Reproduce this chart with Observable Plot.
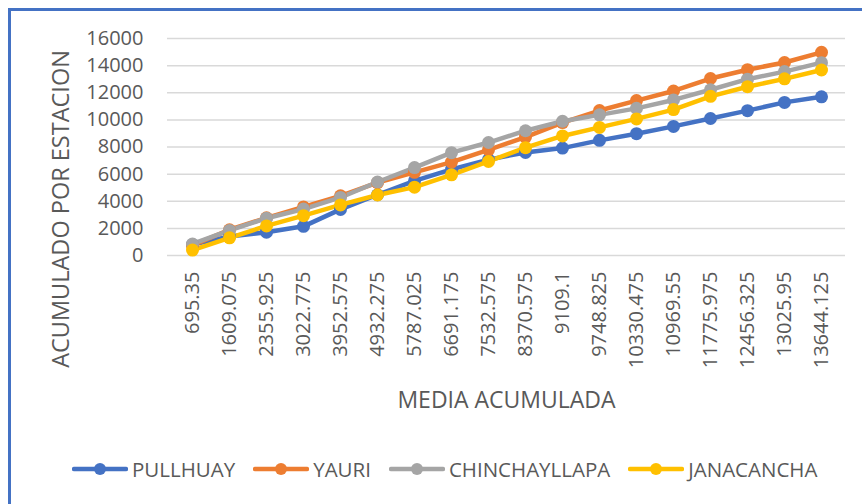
<!DOCTYPE html>
<html>
<head>
<meta charset="utf-8">
<script src="https://cdn.jsdelivr.net/npm/d3@7"></script>
<script src="https://cdn.jsdelivr.net/npm/@observablehq/plot@0.6"></script>
<style>
  html, body { margin: 0; padding: 0; background: #fff; width: 862px; height: 504px; overflow: hidden; }
  #frame { position: absolute; left: 8px; top: 8px; width: 900px; height: 600px;
           border-left: 3px solid #4472C4; border-top: 3px solid #4472C4; }
  #chart { position: absolute; left: 0; top: 0; }
  #legend { position: absolute; left: 72px; top: 440px; height: 58px; display: flex; align-items: center;
            font-family: "Open Sans", sans-serif; font-size: 20.5px; color: #595959; }
  .item { display: flex; align-items: center; margin-right: 18px; }
  .item svg { margin-right: 4px; }
</style>
</head>
<body>
<div id="frame"></div>
<div id="chart"></div>
<div id="legend"></div>
<script>
const labels = ["695.35","1609.075","2355.925","3022.775","3952.575","4932.275","5787.025","6691.175","7532.575","8370.575","9109.1","9748.825","10330.475","10969.55","11775.975","12456.325","13025.95","13644.125"];
const seriesNames = ["PULLHUAY","YAURI","CHINCHAYLLAPA","JANACANCHA"];
const seriesColors = ["#4472C4","#ED7D31","#A5A5A5","#FFC000"];
const pullhuay      = [800, 1400, 1720, 2150, 3400, 4480, 5500, 6350, 7070, 7600, 7920, 8490, 8980, 9520, 10100, 10680, 11290, 11700];
const yauri         = [750, 1900, 2780, 3580, 4400, 5370, 6130, 6890, 7790, 8730, 9800, 10690, 11420, 12130, 13050, 13700, 14230, 14980];
const chinchayllapa = [850, 1850, 2750, 3420, 4280, 5420, 6480, 7580, 8330, 9200, 9900, 10370, 10850, 11470, 12220, 13000, 13560, 14220];
const janacancha    = [400, 1300, 2180, 2940, 3730, 4460, 5040, 5945, 6940, 7950, 8816, 9445, 10072, 10758, 11734, 12445, 13024, 13677];
const yTicks = [0,2000,4000,6000,8000,10000,12000,14000,16000];
const yTitle = "ACUMULADO POR ESTACION";
const xTitle = "MEDIA ACUMULADA";

const seriesValues = [pullhuay, yauri, chinchayllapa, janacancha];
const rows = [];
seriesNames.forEach((name, s) => labels.forEach((l, i) => rows.push({x: l, y: seriesValues[s][i], name})));

const H = 440;
const chart = Plot.plot({
  width: 862, height: H,
  marginLeft: 167, marginRight: 17, marginTop: 38, marginBottom: H - 255,
  style: {fontFamily: "Open Sans, sans-serif", color: "#595959", background: "transparent", overflow: "visible"},
  x: {type: "point", domain: labels, padding: 0.5},
  y: {domain: [0, 16000]},
  color: {domain: seriesNames, range: seriesColors},
  marks: [
    Plot.gridY(yTicks, {stroke: "#D9D9D9", strokeOpacity: 1, strokeWidth: 1.5}),
    Plot.axisY({ticks: yTicks, tickFormat: d3.format("d"), tickSize: 0, tickPadding: 24, fontSize: 20, label: null, fill: "#595959"}),
    Plot.axisX({tickSize: 0, tickRotate: -90, tickPadding: 16, fontSize: 20, label: null, fill: "#595959"}),
    Plot.lineY(rows, {x: "x", y: "y", z: "name", stroke: "name", strokeWidth: 4.5}),
    Plot.dot(rows, {x: "x", y: "y", fill: "name", r: 6.5}),
    Plot.text([yTitle], {text: d => d, frameAnchor: "left", textAnchor: "middle", lineAnchor: "middle", dx: -106, dy: 62, rotate: -90, fontSize: 23.5, fill: "#595959"}),
    Plot.text([xTitle], {text: d => d, frameAnchor: "bottom", textAnchor: "middle", lineAnchor: "middle", dy: 145, fontSize: 23, fill: "#595959"})
  ]
});
document.getElementById("chart").appendChild(chart);

const legend = document.getElementById("legend");
seriesNames.forEach((name, i) => {
  const item = document.createElement("div");
  item.className = "item";
  item.innerHTML = `<svg width="56" height="14"><line x1="2" y1="7" x2="54" y2="7" stroke="${seriesColors[i]}" stroke-width="4.5" stroke-linecap="round"/><circle cx="28" cy="7" r="6" fill="${seriesColors[i]}"/></svg><span>${name}</span>`;
  legend.appendChild(item);
});
</script>
</body>
</html>
